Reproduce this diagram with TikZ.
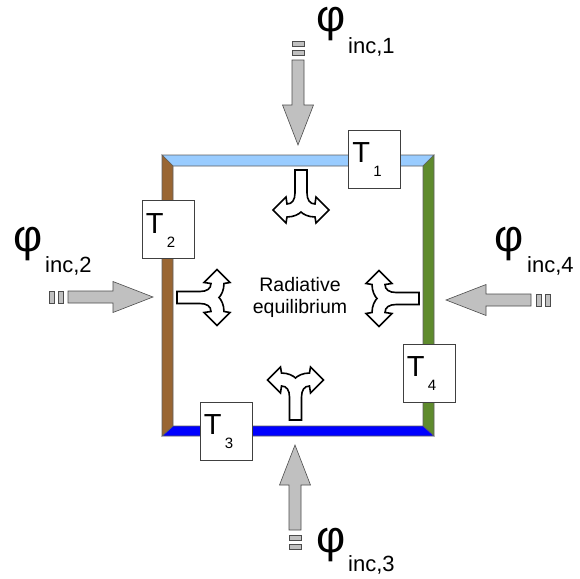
\documentclass[tikz,border=0pt]{standalone}
\usepackage{fontspec}
\setmainfont{Liberation Sans}
\definecolor{topblue}{HTML}{99CCFF}
\definecolor{wallbrown}{HTML}{996633}
\definecolor{wallgreen}{HTML}{5F8B2D}
\definecolor{wallblue}{HTML}{0000FF}
\definecolor{arrowgray}{HTML}{C0C0C0}
\definecolor{edgegray}{HTML}{606060}
\newcommand\Tfont{\fontsize{29}{29}\selectfont}
\newcommand\Sfont{\fontsize{15}{15}\selectfont}
\newcommand\Pfont{\fontsize{45}{45}\selectfont}
\newcommand\PSfont{\fontsize{22}{22}\selectfont}
\newcommand\incarrow[4]{%
  \begin{scope}[shift={(#1,#2)}, rotate=#3]
    \draw[inarrow] (0,0) coordinate (#4) -- (15.5,40) -- (6,40) -- (6,85) -- (-6,85) -- (-6,40) -- (-15.5,40) -- cycle;
    \draw[inarrow] (-6,90) rectangle (6,95);
    \draw[inarrow] (-6,99) rectangle (6,104);
  \end{scope}}
\newcommand\radarrow[4]{%
  \begin{scope}[shift={(#1,#2)}, rotate=#3]
    \draw[radstyle] (-6,0) coordinate (#4) -- (-6,23) .. controls (-6,30) and (-9,34) .. (-14,34) -- (-15,27) -- (-28,40) -- (-15,53) -- (-14,47)
      .. controls (-7,47) and (-2,44) .. (0,42) .. controls (2,44) and (7,47) .. (14,47) -- (15,53) -- (28,40) -- (15,27) -- (14,34)
      .. controls (9,34) and (6,30) .. (6,23) -- (6,0) -- cycle;
  \end{scope}}
\begin{document}
\begin{tikzpicture}[x=1pt,y=-1pt,
  wall/.style={draw=edgegray, line width=0.6pt, line join=miter},
  tbox/.style={draw=black!75, line width=0.6pt, fill=white, minimum width=52pt, minimum height=58pt, inner sep=0pt},
  tletter/.style={anchor=base west, inner sep=0pt, font=\Tfont},
  tsub/.style={anchor=base west, inner sep=0pt, font=\Sfont},
  inarrow/.style={draw=black!70, line width=0.6pt, fill=arrowgray, line join=miter},
  radstyle/.style={draw=black, line width=1.6pt, fill=white, line join=miter},
  philabel/.style={anchor=base west, inner sep=0pt, font=\Pfont},
  phisub/.style={anchor=base west, inner sep=0pt, font=\PSfont},
  eqtext/.style={anchor=base, inner sep=0pt, font=\fontsize{19.5}{22}\selectfont}]
\useasboundingbox (0,0) rectangle (580,578);
% frame
\coordinate (A) at (162,155); \coordinate (B) at (434,155);
\coordinate (C) at (434,436); \coordinate (D) at (162,436);
\coordinate (a) at (173,166); \coordinate (b) at (423,166);
\coordinate (c) at (423,426); \coordinate (d) at (173,426);
\draw[wall, fill=topblue] (A) -- (B) -- (b) -- (a) -- cycle;
\draw[wall, fill=wallgreen] (B) -- (C) -- (c) -- (b) -- cycle;
\draw[wall, fill=wallblue] (C) -- (D) -- (d) -- (c) -- cycle;
\draw[wall, fill=wallbrown] (D) -- (A) -- (a) -- (d) -- cycle;
% temperature boxes
\node[tbox] (T1) at (374.5,159) {};
\node[tbox] (T2) at (168,229.5) {};
\node[tbox] (T3) at (226,431) {};
\node[tbox] (T4) at (429,373) {};
\foreach \n in {1,2,3,4}{
  \node[tletter] at ([shift={(4,33)}]T\n.north west) {T};
  \node[tsub] at ([shift={(25,47)}]T\n.north west) {\n};
}
% radiative arrows
\radarrow{301}{170}{0}{r1}
\radarrow{295.5}{420}{180}{r3}
\radarrow{177}{297.5}{90}{r2}
\radarrow{419}{298.5}{-90}{r4}
\node[eqtext] (eq1) at (300,291) {Radiative};
\node[eqtext] (eq2) at (300,313) {equilibrium};
% incoming arrows
\incarrow{298}{145}{180}{i1}
\incarrow{295}{445}{0}{i3}
\incarrow{153}{297}{-90}{i2}
\incarrow{446}{300}{90}{i4}
% labels
\node[philabel] (p1) at (316.5,32) {φ};
\node[phisub] (s1) at (348,53) {inc,1};
\node[philabel] (p2) at (13.5,251) {φ};
\node[phisub] (s2) at (45,272) {inc,2};
\node[philabel] (p4) at (494.5,251) {φ};
\node[phisub] (s4) at (527,272) {inc,4};
\node[philabel] (p3) at (316.5,552) {φ};
\node[phisub] (s3) at (348,571) {inc,3};
\end{tikzpicture}
\end{document}
